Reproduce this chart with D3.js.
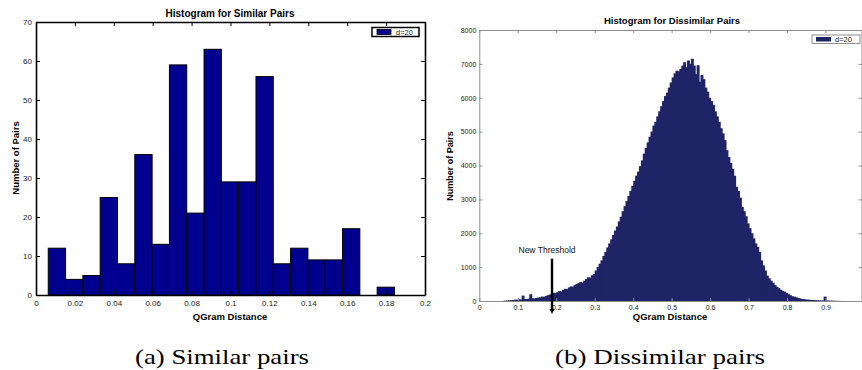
<!DOCTYPE html>
<html>
<head>
<meta charset="utf-8">
<script src="https://cdn.jsdelivr.net/npm/d3@7"></script>
<style>
body { margin: 0; background: #fff; }
text { font-family: "Liberation Sans", Arial, sans-serif; }
</style>
</head>
<body>
<script>
// (a) similar pairs, 20 bins
var simStart = 0.0063, simWidth = 0.0089;
var simCounts = [12, 4, 5, 25, 8, 36, 13, 59, 21, 63, 29, 29, 56, 8, 12, 9, 9, 17, 0, 2];
var simXTicks = [0, 0.02, 0.04, 0.06, 0.08, 0.1, 0.12, 0.14, 0.16, 0.18, 0.2];
var simYTicks = [0, 10, 20, 30, 40, 50, 60, 70];

// (b) dissimilar pairs, bins of 0.005 starting at 0.05
var disStart = 0.05, disWidth = 0.005;
var disCounts = [
    0, 0, 5, 10, 15, 20, 25, 30, 40, 35,
    50, 45, 160, 60, 55, 70, 200, 80, 75, 90,
    100, 110, 130, 120, 150, 170, 190, 210, 240, 230,
    260, 290, 280, 330, 360, 350, 400, 430, 420, 470,
    500, 530, 560, 540, 600, 650, 700, 690, 760, 800,
    900, 1000, 1100, 1200, 1330, 1450, 1580, 1700, 1820, 1950,
    2080, 2200, 2350, 2490, 2650, 2800, 2950, 3100, 3250, 3400,
    3550, 3700, 3820, 3980, 4150, 4350, 4520, 4680, 4850, 5000,
    5180, 5290, 5450, 5600, 5750, 5900, 6050, 6150, 6300, 6450,
    6600, 6720, 6800, 6780, 6850, 6950, 7050, 6900, 7100, 7000,
    7150, 6950, 6700, 6960, 6470, 6670, 6550, 6300, 6180, 6000,
    5900, 5790, 5600, 5450, 5290, 5100, 4950, 4750, 4450, 4250,
    4080, 3900, 3700, 3370, 3250, 3050, 2780, 2650, 2500, 2290,
    2150, 2000, 1850, 1700, 1600, 1450, 1200, 1050, 900, 750,
    670, 600, 540, 470, 420, 380, 330, 300, 275, 240,
    200, 170, 140, 127, 110, 90, 75, 60, 55, 45,
    40, 35, 30, 30, 25, 20, 20, 15, 15, 130,
    15, 10, 10, 8, 5, 5, 3, 2, 0, 0
];
var disXTicks = [0, 0.1, 0.2, 0.3, 0.4, 0.5, 0.6, 0.7, 0.8, 0.9];
var disYTicks = [0, 1000, 2000, 3000, 4000, 5000, 6000, 7000, 8000];
var threshold = 0.189;
var legendLabel = "d=20";

var svg = d3.select('body')
    .append('svg')
    .attr('width', 862)
    .attr('height', 370);

var fmt = d3.format('~g');

function styleAxis(g, color, size, width) {
    g.select('.domain').attr('stroke', color).attr('stroke-width', width);
    g.selectAll('.tick line').attr('stroke', color).attr('stroke-width', 1);
    g.selectAll('.tick text').attr('fill', '#222').style('font-size', size + 'px')
        .style('font-family', '"Liberation Sans", Arial, sans-serif');
}

// ---------- left chart ----------
var x1 = d3.scaleLinear().domain([0, 0.2]).range([36, 425]);
var y1 = d3.scaleLinear().domain([0, 70]).range([295, 22]);

var left = svg.append('g');

left.selectAll('rect.bar')
    .data(simCounts)
    .enter().append('rect')
    .attr('class', 'bar')
    .attr('x', function (d, i) { return x1(simStart + i * simWidth); })
    .attr('width', function (d, i) { return x1(simStart + (i + 1) * simWidth) - x1(simStart + i * simWidth); })
    .attr('y', function (d) { return y1(d); })
    .attr('height', function (d) { return y1(0) - y1(d); })
    .attr('fill', '#00008f')
    .attr('stroke', '#000')
    .attr('stroke-width', 1);

left.append('g')
    .attr('transform', 'translate(0,' + y1(0) + ')')
    .call(d3.axisBottom(x1).tickValues(simXTicks).tickFormat(fmt).tickSize(-4).tickSizeOuter(0).tickPadding(5))
    .call(styleAxis, '#000', 8, 1.6);
left.append('g')
    .attr('transform', 'translate(0,' + y1(70) + ')')
    .call(d3.axisTop(x1).tickValues(simXTicks).tickFormat('').tickSize(-4).tickSizeOuter(0))
    .call(styleAxis, '#000', 8, 1.6);
left.append('g')
    .attr('transform', 'translate(' + x1(0) + ',0)')
    .call(d3.axisLeft(y1).tickValues(simYTicks).tickSize(-4).tickSizeOuter(0).tickPadding(4))
    .call(styleAxis, '#000', 8, 1.6);
left.append('g')
    .attr('transform', 'translate(' + x1(0.2) + ',0)')
    .call(d3.axisRight(y1).tickValues(simYTicks).tickFormat('').tickSize(-4).tickSizeOuter(0))
    .call(styleAxis, '#000', 8, 1.6);

left.append('text')
    .attr('x', 230).attr('y', 17)
    .style('text-anchor', 'middle').style('font-weight', 'bold').style('font-size', '10px')
    .text('Histogram for Similar Pairs');
left.append('text')
    .attr('x', 230).attr('y', 320)
    .style('text-anchor', 'middle').style('font-weight', 'bold').style('font-size', '9.5px')
    .text('QGram Distance');
left.append('text')
    .attr('transform', 'rotate(-90)')
    .attr('x', -158).attr('y', 19)
    .style('text-anchor', 'middle').style('font-weight', 'bold').style('font-size', '9.5px')
    .text('Number of Pairs');

var leg1 = left.append('g');
leg1.append('rect')
    .attr('x', 372).attr('y', 27.5).attr('width', 47).attr('height', 9)
    .attr('fill', '#fff').attr('stroke', '#000').attr('stroke-width', 1.5);
leg1.append('rect')
    .attr('x', 377).attr('y', 29.5).attr('width', 14).attr('height', 5)
    .attr('fill', '#00008f').attr('stroke', '#000').attr('stroke-width', 0.8);
leg1.append('text')
    .attr('x', 396).attr('y', 34.8)
    .style('font-size', '7.5px').attr('fill', '#222')
    .text(legendLabel);

// ---------- right chart ----------
var x2 = d3.scaleLinear().domain([0, 1]).range([479.3, 864]);
var y2 = d3.scaleLinear().domain([0, 8000]).range([301, 30]);

var right = svg.append('g');

right.selectAll('rect.bar')
    .data(disCounts)
    .enter().append('rect')
    .attr('class', 'bar')
    .attr('x', function (d, i) { return x2(disStart + i * disWidth); })
    .attr('width', function (d, i) { return x2(disStart + (i + 1) * disWidth) - x2(disStart + i * disWidth) + 1; })
    .attr('y', function (d) { return y2(d); })
    .attr('height', function (d) { return y2(0) - y2(d); })
    .attr('fill', '#1f2467');

right.append('g')
    .attr('transform', 'translate(0,' + y2(0) + ')')
    .call(d3.axisBottom(x2).tickValues(disXTicks).tickFormat(fmt).tickSize(-3).tickSizeOuter(0).tickPadding(4))
    .call(styleAxis, '#8c8c8c', 7, 1);
right.append('g')
    .attr('transform', 'translate(0,' + y2(8000) + ')')
    .call(d3.axisTop(x2).tickValues(disXTicks.concat([1])).tickFormat('').tickSize(-3).tickSizeOuter(0))
    .call(styleAxis, '#8c8c8c', 7, 1);
right.append('g')
    .attr('transform', 'translate(' + x2(0) + ',0)')
    .call(d3.axisLeft(y2).tickValues(disYTicks).tickFormat(fmt).tickSize(-3).tickSizeOuter(0).tickPadding(3))
    .call(styleAxis, '#8c8c8c', 7, 1);
right.append('g')
    .attr('transform', 'translate(861.5,0)')
    .call(d3.axisRight(y2).tickValues(disYTicks).tickFormat('').tickSize(-3).tickSizeOuter(0))
    .call(styleAxis, '#8c8c8c', 7, 1);

right.append('text')
    .attr('x', 672).attr('y', 23.5)
    .style('text-anchor', 'middle').style('font-weight', 'bold').style('font-size', '9.5px')
    .text('Histogram for Dissimilar Pairs');
right.append('text')
    .attr('x', 670).attr('y', 320)
    .style('text-anchor', 'middle').style('font-weight', 'bold').style('font-size', '9.5px')
    .text('QGram Distance');
right.append('text')
    .attr('transform', 'rotate(-90)')
    .attr('x', -166).attr('y', 453)
    .style('text-anchor', 'middle').style('font-weight', 'bold').style('font-size', '9px')
    .text('Number of Pairs');

var leg2 = right.append('g');
leg2.append('rect')
    .attr('x', 812).attr('y', 35).attr('width', 48).attr('height', 8.5)
    .attr('fill', '#fff').attr('stroke', '#8c8c8c').attr('stroke-width', 1);
leg2.append('rect')
    .attr('x', 816).attr('y', 37).attr('width', 15).attr('height', 4.5)
    .attr('fill', '#1f2467');
leg2.append('text')
    .attr('x', 835).attr('y', 42)
    .style('font-size', '7.5px').attr('fill', '#222')
    .text(legendLabel);

// threshold marker
right.append('text')
    .attr('x', x2(threshold) - 5).attr('y', 253)
    .style('text-anchor', 'middle').style('font-size', '8.5px').attr('fill', '#111')
    .text('New Threshold');
right.append('line')
    .attr('x1', x2(threshold)).attr('x2', x2(threshold))
    .attr('y1', y2(1250)).attr('y2', y2(0) + 10)
    .attr('stroke', '#000').attr('stroke-width', 2.4);
right.append('path')
    .attr('d', 'M' + (x2(threshold) - 2.5) + ',' + (y2(0) + 8) + 'L' + (x2(threshold) + 2.5) + ',' + (y2(0) + 8) + 'L' + x2(threshold) + ',' + (y2(0) + 13) + 'Z')
    .attr('fill', '#000');

// captions
var serif = '"Liberation Serif", "DejaVu Serif", serif';
svg.append('text')
    .attr('x', 135).attr('y', 364)
    .attr('textLength', 174).attr('lengthAdjust', 'spacingAndGlyphs')
    .style('font-family', serif).style('font-size', '22px')
    .text('(a) Similar pairs');
svg.append('text')
    .attr('x', 555).attr('y', 364)
    .attr('textLength', 210).attr('lengthAdjust', 'spacingAndGlyphs')
    .style('font-family', serif).style('font-size', '22px')
    .text('(b) Dissimilar pairs');
</script>
</body>
</html>
